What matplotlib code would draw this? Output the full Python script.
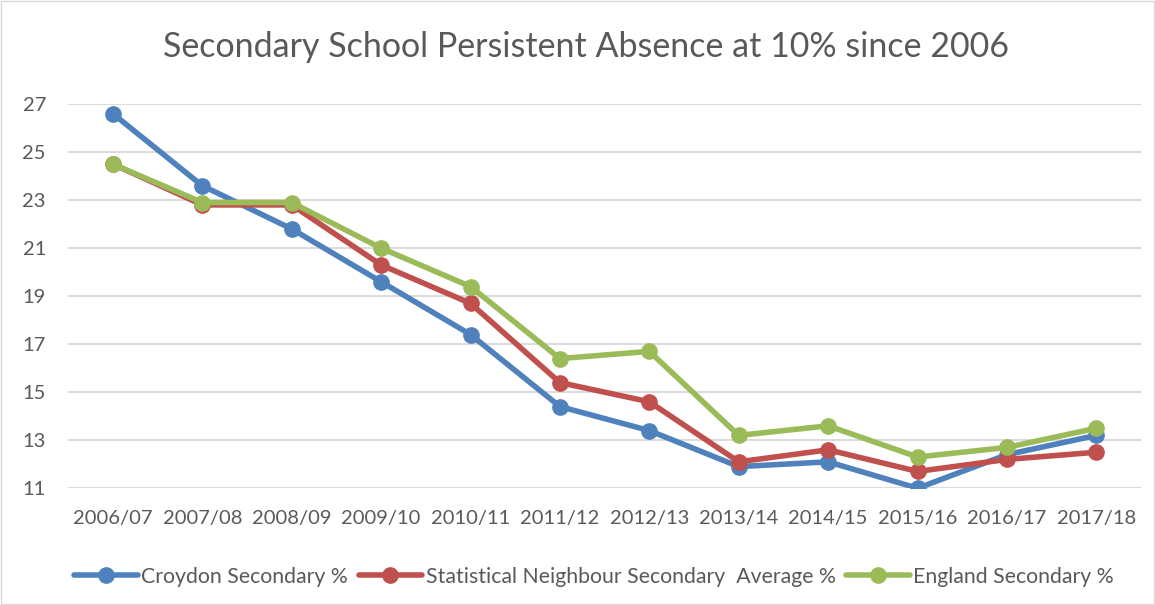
import matplotlib
matplotlib.use("Agg")
import matplotlib.pyplot as plt
from matplotlib.patches import Rectangle

years = ["2006/07", "2007/08", "2008/09", "2009/10", "2010/11", "2011/12",
         "2012/13", "2013/14", "2014/15", "2015/16", "2016/17", "2017/18"]
croydon = [26.6, 23.6, 21.8, 19.6, 17.4, 14.4, 13.4, 11.9, 12.1, 11.0, 12.4, 13.2]
neighbour = [24.5, 22.8, 22.8, 20.3, 18.7, 15.4, 14.6, 12.1, 12.6, 11.7, 12.2, 12.5]
england = [24.5, 22.9, 22.9, 21.0, 19.4, 16.4, 16.7, 13.2, 13.6, 12.3, 12.7, 13.5]
y_ticks = [11, 13, 15, 17, 19, 21, 23, 25, 27]

plt.rcParams['font.family'] = ['Lato', 'DejaVu Sans']
txt = '#595959'

fig = plt.figure(figsize=(11.55, 6.05), dpi=100)
ax = fig.add_axes([0.059, 0.193, 0.929, 0.635])

x = list(range(len(years)))
series = [
    (croydon, '#4F81BD', 'Croydon Secondary %'),
    (neighbour, '#C0504D', 'Statistical Neighbour Secondary  Average %'),
    (england, '#9BBB59', 'England Secondary %'),
]
for vals, col, lab in series:
    ax.plot(x, vals, color=col, lw=4.0, marker='o', ms=11, label=lab,
            solid_capstyle='round', solid_joinstyle='round')

ax.set_xlim(-0.5, len(years) - 0.5)
ax.set_ylim(11, 27)
ax.set_yticks(y_ticks)
ax.set_xticks(x)
ax.set_xticklabels(years)
ax.grid(axis='y', color='#D9D9D9', lw=1.3)
ax.set_axisbelow(True)
for s in ax.spines.values():
    s.set_visible(False)
ax.tick_params(length=0, labelsize=14.5, colors=txt, pad=16)
ax.tick_params(axis='y', pad=16)

fig.text(0.507, 0.922, 'Secondary School Persistent Absence at 10% since 2006',
         ha='center', va='center', fontsize=24.5, color=txt)

leg = ax.legend(loc='center', bbox_to_anchor=(0.49, -0.23), ncol=3, frameon=False,
                fontsize=15.3, handlelength=3.0, handletextpad=0.15, columnspacing=0.5)
for t in leg.get_texts():
    t.set_color(txt)

fig.patches.append(Rectangle((0.001, 0.002), 0.998, 0.996, transform=fig.transFigure,
                             fill=False, edgecolor='#D9D9D9', lw=1))

fig.savefig('out.png', dpi=100)
